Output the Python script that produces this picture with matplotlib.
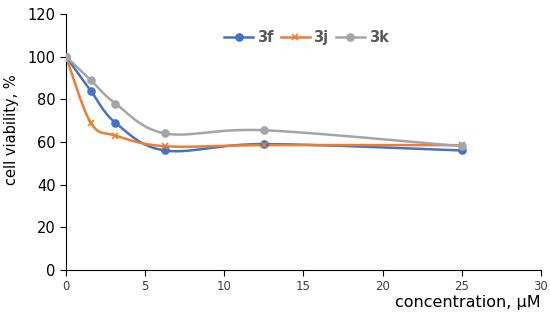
import numpy as np
import matplotlib
matplotlib.use('Agg')
import matplotlib.pyplot as plt

# data
conc = [0, 1.5625, 3.125, 6.25, 12.5, 25]
via_3f = [100, 84, 69, 56, 59, 56]
via_3j = [100, 69, 63, 58, 58.5, 58.5]
via_3k = [100, 89, 78, 64, 65.5, 58]

names = ['3f', '3j', '3k']
colors = ['#4472C4', '#ED7D31', '#A5A5A5']
markers = ['o', 'x', 'o']


# excel-like smoothed line (catmull-rom bezier through the points)
def smooth(x, y, n=40):
    x = np.asarray(x, float)
    y = np.asarray(y, float)
    px = np.concatenate([[x[0]], x, [x[-1]]])
    py = np.concatenate([[y[0]], y, [y[-1]]])
    xs, ys = [], []
    t = np.linspace(0, 1, n)
    for i in range(1, len(px) - 2):
        p0 = np.array([px[i], py[i]])
        p3 = np.array([px[i + 1], py[i + 1]])
        p1 = p0 + (np.array([px[i + 1], py[i + 1]]) - np.array([px[i - 1], py[i - 1]])) / 6
        p2 = p3 - (np.array([px[i + 2], py[i + 2]]) - np.array([px[i], py[i]])) / 6
        b = ((1 - t) ** 3)[:, None] * p0 + (3 * (1 - t) ** 2 * t)[:, None] * p1 \
            + (3 * (1 - t) * t ** 2)[:, None] * p2 + (t ** 3)[:, None] * p3
        xs.extend(b[:, 0])
        ys.extend(b[:, 1])
    return xs, ys


fig = plt.figure(figsize=(5.5, 3.23), dpi=100)
ax = fig.add_axes([0.12, 0.164, 0.8636, 0.793])

for vals, name, c, m in zip([via_3f, via_3j, via_3k], names, colors, markers):
    sx, sy = smooth(conc, vals)
    ax.plot(sx, sy, color=c, lw=1.8, zorder=2)
    ax.plot(conc, vals, linestyle='none', marker=m, color=c, markersize=5,
            markeredgewidth=1.2, zorder=3)
    ax.plot([], [], color=c, lw=1.8, marker=m, markersize=5, markeredgewidth=1.2, label=name)

ax.set_xlim(0, 30)
ax.set_ylim(0, 120)
ax.set_xticks(range(0, 31, 5))
ax.set_yticks(range(0, 121, 20))
ax.spines['top'].set_visible(False)
ax.spines['right'].set_visible(False)
ax.tick_params(direction='out', length=4, colors='black')
ax.tick_params(axis='y', labelsize=10.5)
ax.tick_params(axis='x', labelsize=8.5, labelcolor='#404040')
ax.set_xlabel('concentration, µM', fontsize=11.5, loc='right', labelpad=1)
ax.set_ylabel('cell viability, %', fontsize=10.5)
ax.yaxis.set_label_coords(-0.1, 0.547)

leg = ax.legend(loc='center left', bbox_to_anchor=(0.305, 0.906), ncol=3, frameon=False,
                handlelength=2.0, handletextpad=0.25, columnspacing=0.5,
                prop={'weight': 'bold', 'size': 10.5})
for t in leg.get_texts():
    t.set_color('#595959')

fig.savefig('out.png', dpi=100)
